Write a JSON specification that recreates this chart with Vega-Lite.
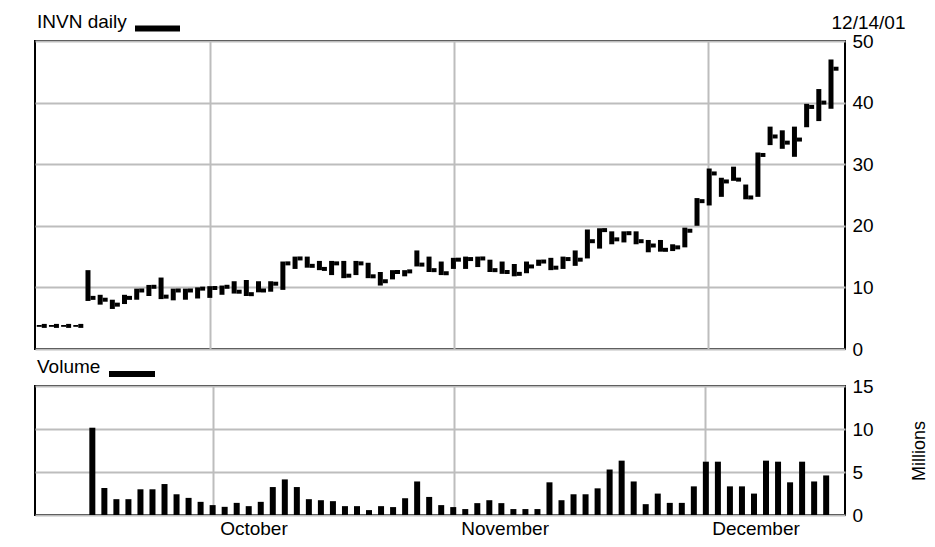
{
  "$schema": "https://vega.github.io/schema/vega-lite/v6.json",
  "padding": {"left": 34, "top": 2, "right": 5, "bottom": 5},
  "config": {
    "font": "Liberation Sans",
    "view": {"stroke": "black", "strokeWidth": 2},
    "axis": {"gridColor": "#bdbdbd", "gridWidth": 2, "gridOpacity": 1, "domain": false, "ticks": false, "labelFontSize": 19, "labelColor": "black", "labelFont": "Liberation Sans"},
    "legend": {"padding": 0, "titleFontSize": 19, "titleFontWeight": "normal", "titleColor": "black", "titleFont": "Liberation Sans", "titleOrient": "left", "titlePadding": 5, "labelOffset": 0, "symbolOffset": 0}
  },
  "resolve": {"scale": {"color": "independent"}, "legend": {"color": "independent"}},
  "datasets": {
    "d": [
      {"i": -4, "high": 3.9, "low": 3.6, "close": 3.75},
      {"i": -3, "high": 3.9, "low": 3.6, "close": 3.75},
      {"i": -2, "high": 3.9, "low": 3.6, "close": 3.75},
      {"i": -1, "high": 3.9, "low": 3.6, "close": 3.75},
      {"i": 0, "high": 12.8, "low": 7.8, "close": 8.3, "vol": 10.15},
      {"i": 1, "high": 8.8, "low": 7.2, "close": 8.0, "vol": 3.14},
      {"i": 2, "high": 8.0, "low": 6.5, "close": 7.2, "vol": 1.84},
      {"i": 3, "high": 8.8, "low": 7.3, "close": 8.3, "vol": 1.84},
      {"i": 4, "high": 9.8, "low": 8.0, "close": 9.5, "vol": 2.99},
      {"i": 5, "high": 10.4, "low": 8.6, "close": 10.1, "vol": 2.99},
      {"i": 6, "high": 11.6, "low": 8.1, "close": 8.5, "vol": 3.6},
      {"i": 7, "high": 9.8, "low": 7.9, "close": 9.5, "vol": 2.41},
      {"i": 8, "high": 9.8, "low": 8.0, "close": 9.5, "vol": 1.99},
      {"i": 9, "high": 10.0, "low": 8.2, "close": 9.8, "vol": 1.53},
      {"i": 10, "high": 10.2, "low": 8.3, "close": 9.9, "vol": 1.15},
      {"i": 11, "high": 10.3, "low": 8.8, "close": 10.1, "vol": 0.95},
      {"i": 12, "high": 11.0, "low": 9.0, "close": 9.3, "vol": 1.41},
      {"i": 13, "high": 11.2, "low": 8.6, "close": 8.9, "vol": 1.03},
      {"i": 14, "high": 11.0, "low": 9.2, "close": 9.5, "vol": 1.53},
      {"i": 15, "high": 11.0, "low": 9.3, "close": 10.6, "vol": 3.25},
      {"i": 16, "high": 14.2, "low": 9.6, "close": 13.9, "vol": 4.14},
      {"i": 17, "high": 15.0, "low": 13.0, "close": 14.7, "vol": 3.25},
      {"i": 18, "high": 15.0, "low": 13.2, "close": 13.5, "vol": 1.84},
      {"i": 19, "high": 14.3, "low": 12.8, "close": 13.0, "vol": 1.72},
      {"i": 20, "high": 14.3, "low": 12.0, "close": 13.9, "vol": 1.61},
      {"i": 21, "high": 14.3, "low": 11.5, "close": 11.9, "vol": 1.03},
      {"i": 22, "high": 14.3, "low": 12.0, "close": 13.9, "vol": 1.03},
      {"i": 23, "high": 14.0, "low": 11.5, "close": 11.8, "vol": 0.57},
      {"i": 24, "high": 12.5, "low": 10.3, "close": 11.0, "vol": 1.03},
      {"i": 25, "high": 12.8, "low": 11.3, "close": 12.5, "vol": 0.92},
      {"i": 26, "high": 12.8, "low": 11.8, "close": 12.6, "vol": 1.95},
      {"i": 27, "high": 16.0, "low": 13.4, "close": 13.7, "vol": 3.9},
      {"i": 28, "high": 15.0, "low": 12.5, "close": 12.8, "vol": 2.1},
      {"i": 29, "high": 14.2, "low": 12.0, "close": 12.3, "vol": 1.15},
      {"i": 30, "high": 14.8, "low": 13.0, "close": 14.5, "vol": 0.92},
      {"i": 31, "high": 15.0, "low": 13.0, "close": 14.6, "vol": 0.69},
      {"i": 32, "high": 15.0, "low": 13.3, "close": 14.7, "vol": 1.38},
      {"i": 33, "high": 14.5, "low": 12.5, "close": 12.8, "vol": 1.72},
      {"i": 34, "high": 14.2, "low": 12.2, "close": 12.5, "vol": 1.38},
      {"i": 35, "high": 13.8, "low": 11.8, "close": 12.2, "vol": 0.69},
      {"i": 36, "high": 14.2, "low": 12.3, "close": 13.4, "vol": 0.69},
      {"i": 37, "high": 14.5, "low": 13.5, "close": 14.2, "vol": 0.69},
      {"i": 38, "high": 14.8, "low": 12.8, "close": 13.2, "vol": 3.8},
      {"i": 39, "high": 15.0, "low": 13.0, "close": 14.6, "vol": 1.72},
      {"i": 40, "high": 16.0, "low": 13.5, "close": 14.5, "vol": 2.41},
      {"i": 41, "high": 19.4, "low": 14.7, "close": 17.5, "vol": 2.41},
      {"i": 42, "high": 19.6, "low": 16.3, "close": 19.3, "vol": 3.1},
      {"i": 43, "high": 19.1, "low": 17.0, "close": 17.8, "vol": 5.29},
      {"i": 44, "high": 19.1, "low": 17.3, "close": 18.8, "vol": 6.32},
      {"i": 45, "high": 19.1, "low": 17.0, "close": 17.5, "vol": 3.9},
      {"i": 46, "high": 17.7, "low": 15.7, "close": 16.8, "vol": 1.26},
      {"i": 47, "high": 17.7, "low": 15.8, "close": 16.1, "vol": 2.49},
      {"i": 48, "high": 17.0, "low": 15.9, "close": 16.5, "vol": 1.41},
      {"i": 49, "high": 19.7, "low": 16.5, "close": 19.2, "vol": 1.41},
      {"i": 50, "high": 24.5, "low": 20.0, "close": 24.0, "vol": 3.33},
      {"i": 51, "high": 29.3, "low": 23.3, "close": 28.5, "vol": 6.2},
      {"i": 52, "high": 27.8, "low": 24.7, "close": 27.2, "vol": 6.2},
      {"i": 53, "high": 29.6, "low": 27.3, "close": 27.5, "vol": 3.33},
      {"i": 54, "high": 26.7, "low": 24.3, "close": 24.6, "vol": 3.33},
      {"i": 55, "high": 31.9, "low": 24.7, "close": 31.5, "vol": 2.49},
      {"i": 56, "high": 36.1, "low": 33.1, "close": 34.5, "vol": 6.32},
      {"i": 57, "high": 35.5, "low": 32.5, "close": 33.5, "vol": 6.2},
      {"i": 58, "high": 36.1, "low": 31.2, "close": 34.0, "vol": 3.8},
      {"i": 59, "high": 39.8, "low": 36.0, "close": 39.3, "vol": 6.2},
      {"i": 60, "high": 42.2, "low": 37.0, "close": 40.0, "vol": 3.9},
      {"i": 61, "high": 47.0, "low": 39.0, "close": 45.5, "vol": 4.6}
    ]
  },
  "bounds": "flush",
  "spacing": 37,
  "vconcat": [
    {
      "width": 810,
      "height": 308,
      "data": {"name": "d"},
      "encoding": {
        "x": {"field": "i", "type": "quantitative", "scale": {"domain": [-4.35, 62.15], "nice": false, "zero": false},
              "axis": {"values": [10, 30.05, 50.9], "labels": false, "title": null, "grid": true}}
      },
      "layer": [
        {
          "mark": {"type": "rule", "strokeWidth": 5, "strokeCap": "butt"},
          "encoding": {
            "y": {"field": "low", "type": "quantitative", "scale": {"domain": [0, 50], "nice": false, "zero": true},
                  "axis": {"orient": "right", "values": [0, 5, 10, 15, 20, 25, 30, 35, 40, 45, 50], "grid": true, "labelPadding": 7,
                           "title": "12/14/01", "titleAngle": 0, "titleAlign": "right", "titleBaseline": "alphabetic", "titleX": 60, "titleY": -13,
                           "titleFontSize": 19, "titleFontWeight": "normal", "titleColor": "black", "titleFont": "Liberation Sans"}},
            "y2": {"field": "high"},
            "color": {"datum": "INVN daily", "scale": {"range": ["black"]},
                      "legend": {"orient": "none", "legendX": 2, "legendY": -38, "title": "INVN daily", "labelExpr": "''",
                                 "encode": {"symbols": {"update": {"shape": {"value": "stroke"}, "stroke": {"value": "black"}, "strokeWidth": {"value": 6}, "size": {"value": 2025}}}}}}
          }
        },
        {
          "mark": {"type": "tick", "orient": "horizontal", "size": 5, "thickness": 4, "xOffset": 5, "color": "black", "opacity": 1},
          "encoding": {"y": {"field": "close", "type": "quantitative"}}
        }
      ]
    },
    {
      "width": 810,
      "height": 129,
      "data": {"name": "d"},
      "mark": {"type": "bar", "width": 6, "color": "black"},
      "encoding": {
        "x": {"field": "i", "type": "quantitative", "scale": {"domain": [-4.35, 62.15], "nice": false, "zero": false},
              "axis": {"values": [10, 30.05, 50.9], "labelExpr": "datum.value < 20 ? 'October' : datum.value < 40 ? 'November' : 'December'",
                       "labelAlign": "left", "labelOffset": 7, "labelPadding": 4, "title": null, "grid": true}},
        "y": {"field": "vol", "type": "quantitative", "scale": {"domain": [0, 15], "nice": false},
              "axis": {"orient": "right", "values": [0, 5, 10, 15], "title": "Millions", "titleAngle": 270, "titleFontSize": 18, "titleFontWeight": "normal", "titleColor": "black", "titleFont": "Liberation Sans", "titlePadding": 55, "grid": true, "labelPadding": 7}},
        "color": {"datum": "Volume", "scale": {"range": ["black"]},
                  "legend": {"orient": "none", "legendX": 2, "legendY": -38, "title": "Volume", "labelExpr": "''",
                             "encode": {"symbols": {"update": {"shape": {"value": "stroke"}, "stroke": {"value": "black"}, "strokeWidth": {"value": 6}, "size": {"value": 2116}}}}}}
      }
    }
  ]
}
